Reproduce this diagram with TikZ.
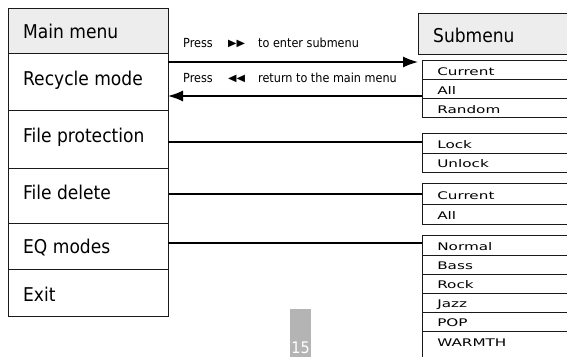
\documentclass[tikz,border=0pt]{standalone}
\usepackage{fontspec}
\setmainfont{DejaVu Sans}
\newfontfamily\condfont{DejaVu Sans Condensed}
\usetikzlibrary{arrows.meta}
\definecolor{hdrgray}{HTML}{EDEDED}
\definecolor{pagegray}{HTML}{B4B4B4}
\definecolor{linecol}{HTML}{1A1A1A}
\tikzset{
  mbox/.style={draw=linecol, line width=1.3pt, rectangle, anchor=north west, inner sep=0pt, minimum width=160pt},
  hbox/.style={draw=linecol, line width=1.3pt, rectangle, anchor=north west, inner sep=0pt, minimum width=160pt, fill=hdrgray},
  sbox/.style={draw=linecol, line width=1.2pt, rectangle, anchor=north west, inner sep=0pt, minimum width=160pt},
  mtext/.style={anchor=base west, inner sep=0pt, font=\condfont\fontsize{19}{22}\selectfont},
  stext/.style={anchor=base west, inner sep=0pt, xscale=1.45, font=\fontsize{10.5}{12}\selectfont},
  ptext/.style={anchor=base west, inner sep=0pt, font=\condfont\fontsize{12.5}{14}\selectfont},
  tri/.style={anchor=base west, inner sep=0pt, xscale=1.1, font=\fontsize{10}{12}\selectfont},
  conn/.style={draw=black, line width=1.4pt},
  arr/.style={conn, -{Latex[length=15pt,width=11pt]}},
}
\begin{document}
\begin{tikzpicture}[x=1pt,y=-1pt]
\useasboundingbox (0,0) rectangle (567,356);
% main menu column
\node[hbox, minimum height=45pt] (mainm) at (8,8) {};
\node[mbox, minimum height=57pt] (recyc) at (8,53) {};
\node[mbox, minimum height=58pt] (fprot) at (8,110) {};
\node[mbox, minimum height=55pt] (fdel) at (8,168) {};
\node[mbox, minimum height=46pt] (eqm) at (8,223) {};
\node[mbox, minimum height=47pt] (exitm) at (8,269) {};
\node[mtext] (tmain) at (23,38) {Main menu};
\node[mtext] (trec) at (23,85) {Recycle mode};
\node[mtext] (tfp) at (23,142) {File protection};
\node[mtext] (tfd) at (23,199) {File delete};
\node[mtext] (teq) at (23,253) {EQ modes};
\node[mtext] (tex) at (23,301) {Exit};
% submenu header
\node[hbox, minimum height=41pt] (subm) at (418,13) {};
\node[mtext] (tsub) at (433,42) {Submenu};
% submenu items
\node[sbox, minimum height=19pt] (cur1) at (422,60) {};
\node[sbox, minimum height=19pt] (all1) at (422,79) {};
\node[sbox, minimum height=19pt] (rand) at (422,98) {};
\node[sbox, minimum height=20pt] (lock) at (422,133) {};
\node[sbox, minimum height=19pt] (unlock) at (422,153) {};
\node[sbox, minimum height=21pt] (cur2) at (422,183) {};
\node[sbox, minimum height=20pt] (all2) at (422,204) {};
\node[sbox, minimum height=20pt] (normal) at (422,235) {};
\node[sbox, minimum height=19pt] (bass) at (422,255) {};
\node[sbox, minimum height=19pt] (rock) at (422,274) {};
\node[sbox, minimum height=19pt] (jazz) at (422,293) {};
\node[sbox, minimum height=19pt] (pop) at (422,312) {};
\node[sbox, minimum height=30pt] (warm) at (422,331) {};
\node[stext] at (437,75) {Current};
\node[stext] at (437,94) {All};
\node[stext] at (437,113) {Random};
\node[stext] at (437,148) {Lock};
\node[stext] at (437,167) {Unlock};
\node[stext] at (437,199) {Current};
\node[stext] at (437,219) {All};
\node[stext] at (437,250) {Normal};
\node[stext] at (437,269) {Bass};
\node[stext] at (437,288) {Rock};
\node[stext] at (437,307) {Jazz};
\node[stext] at (437,326) {POP};
\node[stext] at (437,346) {WARMTH};
% arrows
\coordinate (fwdS) at (168,62);
\coordinate (fwdE) at (418,62);
\coordinate (bckS) at (422,96);
\coordinate (bckE) at (168,96);
\draw[arr] (fwdS) -- (fwdE);
\draw[arr] (bckS) -- (bckE);
\node[ptext] (p1) at (183,47) {Press};
\node[tri] (p1s) at (228,46.5) {▶▶};
\node[ptext] (p1b) at (258,47) {to enter submenu};
\node[ptext] (p2) at (183,82) {Press};
\node[tri] (p2s) at (228,81.5) {◀◀};
\node[ptext] (p2b) at (258,82) {return to the main menu};
% connectors
\coordinate (fps) at (168,142);
\draw[conn] (fps) -- (lock.west |- fps);
\draw[conn] (fdel.east |- cur2.west) -- (cur2.west);
\coordinate (eqs) at (168,243);
\draw[conn] (eqs) -- (normal.west |- eqs);
% page number
\node[fill=pagegray, anchor=north west, minimum width=21pt, minimum height=50pt, inner sep=0pt] (pg) at (290,309) {};
\node[anchor=base, inner sep=0pt, text=white, font=\condfont\fontsize{16}{18}\selectfont] (pgn) at (300.5,353) {15};
\end{tikzpicture}
\end{document}
